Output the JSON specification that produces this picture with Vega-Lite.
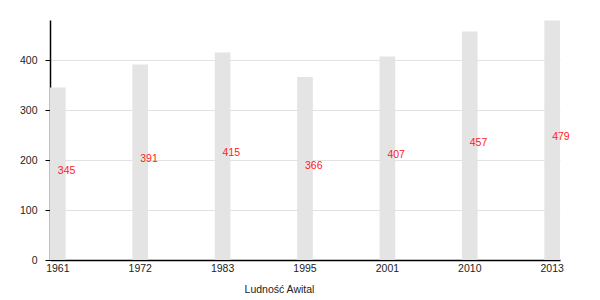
{
  "$schema": "https://vega.github.io/schema/vega-lite/v6.json",
  "width": 510,
  "height": 240,
  "autosize": "none",
  "padding": {"left": 50, "top": 20, "right": 40, "bottom": 40},
  "config": {
    "view": {"stroke": null},
    "font": "Liberation Sans",
    "axis": {"labelFont": "Liberation Sans", "titleFont": "Liberation Sans", "labelFontSize": 10.5, "titleFontSize": 10.5, "labelColor": "#222", "titleColor": "#222", "titleFontWeight": "normal"}
  },
  "data": {
    "values": [
      {"year": "1961", "population": 345},
      {"year": "1972", "population": 391},
      {"year": "1983", "population": 415},
      {"year": "1995", "population": 366},
      {"year": "2001", "population": 407},
      {"year": "2010", "population": 457},
      {"year": "2013", "population": 479}
    ]
  },
  "encoding": {
    "x": {
      "field": "year",
      "type": "ordinal",
      "sort": null,
      "scale": {"paddingInner": 0.81, "paddingOuter": 0},
      "axis": {
        "title": "Ludność Awital",
        "labelAngle": 0,
        "ticks": false,
        "labelPadding": 3,
        "domainColor": "#000",
        "domainWidth": 1.5,
        "titleX": 229,
        "titleY": 29,
        "titleAlign": "center",
        "titleBaseline": "middle",
        "titleAnchor": null
      }
    }
  },
  "layer": [
    {
      "mark": {"type": "bar", "color": "#e4e4e4"},
      "encoding": {
        "y": {
          "field": "population",
          "type": "quantitative",
          "scale": {"domain": [0, 480], "nice": false},
          "axis": {
            "title": null,
            "values": [0, 100, 200, 300, 400],
            "gridColor": "#e2e2e2",
            "domainColor": "#000",
            "domainWidth": 1.5,
            "tickColor": "#000",
            "tickSize": 5,
            "labelPadding": 8
          }
        }
      }
    },
    {
      "mark": {"type": "text", "color": "#ff2020", "align": "left", "baseline": "alphabetic", "fontSize": 10.5},
      "encoding": {
        "y": {
          "field": "population",
          "type": "quantitative",
          "scale": {"domain": [0, 960], "nice": false},
          "axis": null
        },
        "text": {"field": "population", "type": "quantitative"}
      }
    }
  ],
  "resolve": {"scale": {"y": "independent"}}
}
